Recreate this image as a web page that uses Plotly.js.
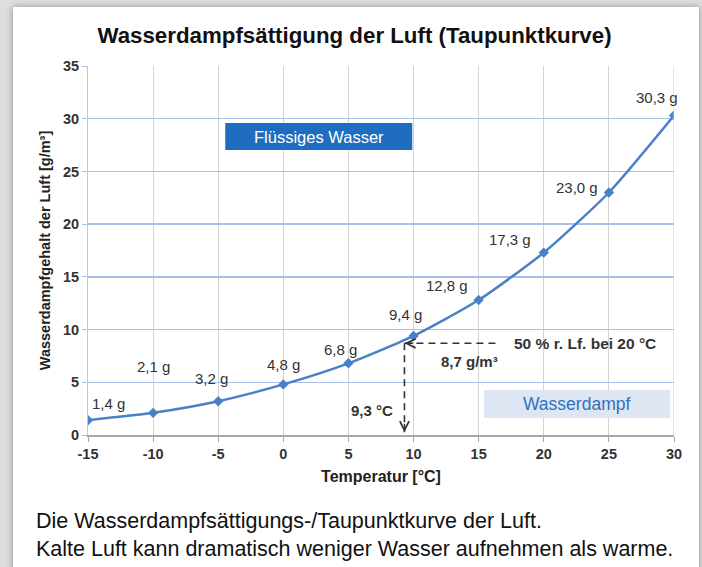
<!DOCTYPE html>
<html><head><meta charset="utf-8">
<script src="https://cdn.plot.ly/plotly-3.0.1.min.js"></script>
<style>
html,body{margin:0;padding:0;background:#dedede;width:702px;height:567px;overflow:hidden;}
#panel{position:absolute;left:13px;top:7px;width:686px;height:580px;background:#fff;box-shadow:0 0 7px rgba(0,0,0,0.35);}
#chart{position:absolute;left:0;top:0;width:702px;height:567px;}
</style></head>
<body><div id="panel"></div><div id="chart"></div>
<script>
const temps = [-15, -10, -5, 0, 5, 10, 15, 20, 25, 30];
const water = [1.4, 2.1, 3.2, 4.8, 6.8, 9.4, 12.8, 17.3, 23.0, 30.3];
const labels = ["1,4 g","2,1 g","3,2 g","4,8 g","6,8 g","9,4 g","12,8 g","17,3 g","23,0 g","30,3 g"];
const labelOffX = [20, 0, -7, 0, -8, -8, -32, -34, -32, -17];
const labelOffY = [-17, -46, -23, -20, -14, -21, -15, -13, -5, -18];
const dewTemp = 9.3, dewWater = 8.7, dashEnd = 16.4;

const FONT = "Liberation Sans, Arial, sans-serif";
const DARK = '#333';
const annotations = labels.map((t,i)=>({
  x: temps[i], y: water[i], xref:'x', yref:'y', text: t, showarrow:false,
  xshift: labelOffX[i], yshift: -labelOffY[i],
  font:{family:FONT, size:15, color:DARK}
}));
annotations.push(
  {x:dewTemp, y:dewWater, ax:10, ay:0, xref:'x', yref:'y',
   showarrow:true, arrowhead:5, arrowsize:1.2, arrowwidth:1.5, arrowcolor:DARK, text:'', standoff:0},
  {x:dewTemp, y:0.25, ax:0, ay:-10, xref:'x', yref:'y',
   showarrow:true, arrowhead:5, arrowsize:1.2, arrowwidth:1.5, arrowcolor:DARK, text:'', standoff:0},
  {x:23.2, y:dewWater, xref:'x', yref:'y', text:'<b>50 % r. Lf. bei 20 °C</b>', showarrow:false,
   font:{family:FONT, size:15.5, color:DARK}},
  {x:14.3, y:6.95, xref:'x', yref:'y', text:'<b>8,7 g/m³</b>', showarrow:false,
   font:{family:FONT, size:15, color:DARK}},
  {x:6.8, y:2.37, xref:'x', yref:'y', text:'<b>9,3 °C</b>', showarrow:false,
   font:{family:FONT, size:15, color:DARK}},
  {x:2.72, y:28.3, xref:'x', yref:'y', text:'Flüssiges Wasser', showarrow:false,
   font:{family:FONT, size:16.5, color:'#fff'}},
  {x:22.55, y:2.95, xref:'x', yref:'y', text:'Wasserdampf', showarrow:false,
   font:{family:FONT, size:17.5, color:'#2f72c2'}},
  {x:-0.092, y:-0.233, xref:'paper', yref:'paper', xanchor:'left', yanchor:'middle', text:'Die Wasserdampfsättigungs-/Taupunktkurve der Luft.', showarrow:false,
   font:{family:FONT, size:21.5, color:'#111'}},
  {x:-0.092, y:-0.309, xref:'paper', yref:'paper', xanchor:'left', yanchor:'middle', text:'Kalte Luft kann dramatisch weniger Wasser aufnehmen als warme.', showarrow:false,
   font:{family:FONT, size:21.5, color:'#111'}}
);

const trace = {
  x: temps, y: water, type:'scatter', mode:'lines+markers',
  line:{color:'#4a80c8', width:2.5, shape:'spline', smoothing:0.6},
  marker:{symbol:'diamond', size:8, color:'#4a80c8'},
  hoverinfo:'skip', showlegend:false
};

const layout = {
  width:702, height:567,
  margin:{l:88, r:28, t:66, b:132},
  paper_bgcolor:'rgba(0,0,0,0)', plot_bgcolor:'#fff',
  font:{family:FONT},
  title:{text:'<b>Wasserdampfsättigung der Luft (Taupunktkurve)</b>', x:0.505, xanchor:'center', y:0.938, yanchor:'middle',
    font:{family:FONT, size:22.3, color:'#111'}},
  xaxis:{range:[-15,30], tickvals:[-15,-10,-5,0,5,10,15,20,25,30], ticktext:['-15','-10','-5','0','5','10','15','20','25','30'],
    showgrid:true, gridcolor:'#d3d3d3', gridwidth:1,
    showline:true, linecolor:'#a8a8a8', linewidth:1.5, ticks:'outside', ticklen:5, tickcolor:'#a8a8a8',
    zeroline:false, mirror:false,
    tickfont:{family:FONT, size:14.5, color:DARK, weight:'bold'},
    title:{text:'<b>Temperatur [°C]</b>', font:{family:FONT, size:16, color:'#222'}, standoff:10}},
  yaxis:{range:[0,35], tickvals:[0,5,10,15,20,25,30,35],
    showgrid:true, gridcolor:'#a9bfe8', gridwidth:1.3,
    showline:true, linecolor:'#c8c8c8', linewidth:1, ticks:'outside', ticklen:5, tickcolor:'#a9bfe8',
    zeroline:false,
    tickfont:{family:FONT, size:14.5, color:DARK, weight:'bold'},
    title:{text:'<b>Wasserdampfgehalt der Luft [g/m³]</b>', font:{family:FONT, size:14.5, color:'#222'}, standoff:8}},
  shapes:[
    {type:'line', xref:'x', yref:'y', x0:30, x1:30, y0:0, y1:35, line:{color:'#d3d3d3', width:1}},
    {type:'rect', xref:'x', yref:'y', x0:-4.46, x1:9.9, y0:27.04, y1:29.6, fillcolor:'#1f6dc0', line:{width:0}, layer:'above'},
    {type:'rect', xref:'x', yref:'y', x0:15.41, x1:29.7, y0:1.61, y1:4.27, fillcolor:'#dde6f2', line:{width:0}, layer:'above'},
    {type:'line', xref:'x', yref:'y', x0:dewTemp, x1:dashEnd, y0:dewWater, y1:dewWater, line:{color:DARK, width:1.6, dash:'7px,5px'}, layer:'above'},
    {type:'line', xref:'x', yref:'y', x0:dewTemp, x1:dewTemp, y0:dewWater, y1:0.25, line:{color:DARK, width:1.6, dash:'7px,5px'}, layer:'above'}
  ],
  annotations: annotations
};
Plotly.newPlot('chart', [trace], layout, {displayModeBar:false, staticPlot:true});
</script></body></html>
